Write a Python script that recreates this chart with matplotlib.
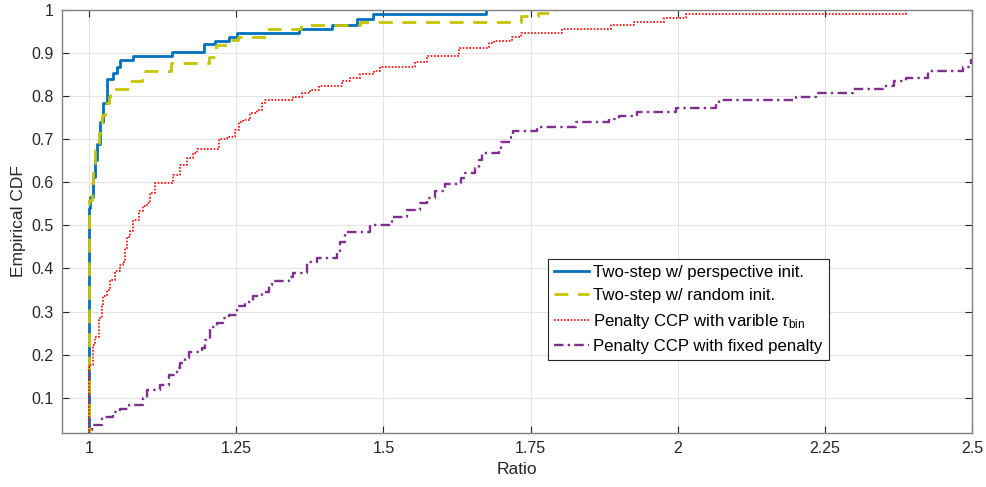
import matplotlib.pyplot as plt

plt.rcParams['font.family'] = ['Liberation Sans', 'DejaVu Sans']
plt.rcParams['mathtext.fontset'] = 'custom'
plt.rcParams['mathtext.rm'] = 'Liberation Sans'
plt.rcParams['mathtext.it'] = 'Liberation Sans:italic'

# step positions (ratio) and CDF level after each step
persp_x = [1.000, 1.000, 1.002, 1.006, 1.010, 1.013, 1.019, 1.024, 1.030, 1.041, 1.047,
           1.053, 1.075, 1.141, 1.196, 1.214, 1.237, 1.251, 1.356, 1.413, 1.456, 1.483, 1.675]
persp_y = [0.000, 0.540, 0.567, 0.613, 0.652, 0.690, 0.740, 0.784, 0.840, 0.853, 0.868,
           0.884, 0.894, 0.903, 0.921, 0.929, 0.937, 0.947, 0.956, 0.965, 0.980, 0.991, 1.000]

rand_x = [1.000, 1.000, 1.005, 1.007, 1.010, 1.016, 1.022, 1.027, 1.033, 1.036, 1.040,
          1.068, 1.090, 1.140, 1.203, 1.216, 1.236, 1.253, 1.300, 1.360, 1.461, 1.733,
          1.762, 1.793]
rand_y = [0.000, 0.560, 0.598, 0.645, 0.675, 0.714, 0.756, 0.784, 0.799, 0.807, 0.817,
          0.836, 0.858, 0.877, 0.892, 0.919, 0.930, 0.938, 0.955, 0.964, 0.973, 0.986,
          0.992, 1.000]

var_x = [1.000, 1.000, 1.002, 1.007, 1.010, 1.016, 1.022, 1.024, 1.030, 1.036, 1.044,
         1.053, 1.058, 1.061, 1.064, 1.070, 1.075, 1.084, 1.092, 1.098, 1.104, 1.112,
         1.143, 1.155, 1.166, 1.177, 1.183, 1.220, 1.234, 1.248, 1.254, 1.262, 1.274,
         1.285, 1.294, 1.299, 1.347, 1.362, 1.376, 1.390, 1.430, 1.444, 1.461, 1.484,
         1.495, 1.554, 1.574, 1.628, 1.679, 1.688, 1.719, 1.733, 1.804, 1.886, 1.925,
         1.976, 2.014, 2.388]
var_y = [0.000, 0.172, 0.176, 0.223, 0.242, 0.285, 0.312, 0.335, 0.350, 0.373, 0.393,
         0.408, 0.416, 0.447, 0.474, 0.486, 0.513, 0.534, 0.544, 0.551, 0.575, 0.598,
         0.617, 0.640, 0.656, 0.667, 0.677, 0.700, 0.706, 0.722, 0.741, 0.745, 0.760,
         0.768, 0.783, 0.791, 0.797, 0.807, 0.814, 0.824, 0.834, 0.842, 0.852, 0.859,
         0.868, 0.880, 0.894, 0.911, 0.923, 0.929, 0.937, 0.946, 0.955, 0.965, 0.973,
         0.981, 0.990, 1.000]

fix_x = [1.000, 1.000, 1.005, 1.022, 1.041, 1.053, 1.067, 1.092, 1.098, 1.121, 1.135,
         1.149, 1.155, 1.163, 1.169, 1.192, 1.197, 1.206, 1.217, 1.228, 1.237, 1.251,
         1.265, 1.279, 1.294, 1.305, 1.311, 1.339, 1.347, 1.370, 1.387, 1.421, 1.427,
         1.435, 1.478, 1.515, 1.540, 1.563, 1.574, 1.588, 1.605, 1.631, 1.639, 1.656,
         1.662, 1.668, 1.696, 1.699, 1.716, 1.721, 1.761, 1.827, 1.883, 1.900, 1.931,
         1.997, 2.065, 2.070, 2.201, 2.235, 2.297, 2.348, 2.368, 2.388, 2.425, 2.484,
         2.498, 2.500]
fix_y = [0.000, 0.026, 0.037, 0.056, 0.066, 0.073, 0.084, 0.099, 0.117, 0.130, 0.153,
         0.169, 0.180, 0.192, 0.205, 0.215, 0.233, 0.265, 0.273, 0.285, 0.292, 0.312,
         0.323, 0.335, 0.346, 0.362, 0.372, 0.380, 0.389, 0.414, 0.424, 0.439, 0.462,
         0.484, 0.501, 0.520, 0.536, 0.553, 0.563, 0.580, 0.596, 0.609, 0.621, 0.633,
         0.652, 0.667, 0.679, 0.694, 0.705, 0.720, 0.728, 0.739, 0.747, 0.755, 0.763,
         0.772, 0.782, 0.790, 0.797, 0.807, 0.816, 0.824, 0.834, 0.842, 0.859, 0.868,
         0.884, 0.884]

x_ticks = [1, 1.25, 1.5, 1.75, 2, 2.25, 2.5]
x_tick_labels = ['1', '1.25', '1.5', '1.75', '2', '2.25', '2.5']
y_ticks = [0.1, 0.2, 0.3, 0.4, 0.5, 0.6, 0.7, 0.8, 0.9, 1.0]
y_tick_labels = ['0.1', '0.2', '0.3', '0.4', '0.5', '0.6', '0.7', '0.8', '0.9', '1']

fig = plt.figure(figsize=(9.86, 4.87), dpi=100)
ax = fig.add_axes([0.0629, 0.1109, 0.9229, 0.8686])

ax.step(persp_x, persp_y, where='post', color='#0072BD', lw=2.0,
        label='Two-step w/ perspective init.')
ax.step(rand_x, rand_y, where='post', color='#C4C400', lw=2.0, dashes=(5, 3.5),
        label='Two-step w/ random init.')
ax.step(var_x, var_y, where='post', color='#FF0000', lw=1.2, dashes=(1, 1),
        label=r'Penalty CCP with varible $\tau_{\rm bin}$')
ax.step(fix_x, fix_y, where='post', color='#7E2F8E', lw=1.7, dashes=(4, 1.8, 1, 1.8),
        label='Penalty CCP with fixed penalty')

ax.set_xlim(0.954, 2.5)
ax.set_ylim(0.018, 1.0)
ax.set_xticks(x_ticks)
ax.set_xticklabels(x_tick_labels)
ax.set_yticks(y_ticks)
ax.set_yticklabels(y_tick_labels)
ax.tick_params(direction='in', top=True, right=True, length=5, width=0.8,
               color='#262626', labelsize=11.5, labelcolor='#262626', pad=6)
ax.grid(True, color='#e3e3e3', lw=0.8)
ax.set_axisbelow(True)
for s in ax.spines.values():
    s.set_color('#808080')
    s.set_linewidth(1.0)

ax.set_xlabel('Ratio', fontsize=12.5, color='#262626')
ax.set_ylabel('Empirical CDF', fontsize=12.5, color='#262626')

leg = ax.legend(loc='lower left', bbox_to_anchor=(0.534, 0.173), fontsize=12.1,
                fancybox=False, framealpha=1, edgecolor='#262626', handlelength=2.1,
                borderpad=0.35, labelspacing=0.5, handletextpad=0.25, borderaxespad=0)
leg.get_frame().set_linewidth(0.8)

fig.savefig('out.png', dpi=100)
